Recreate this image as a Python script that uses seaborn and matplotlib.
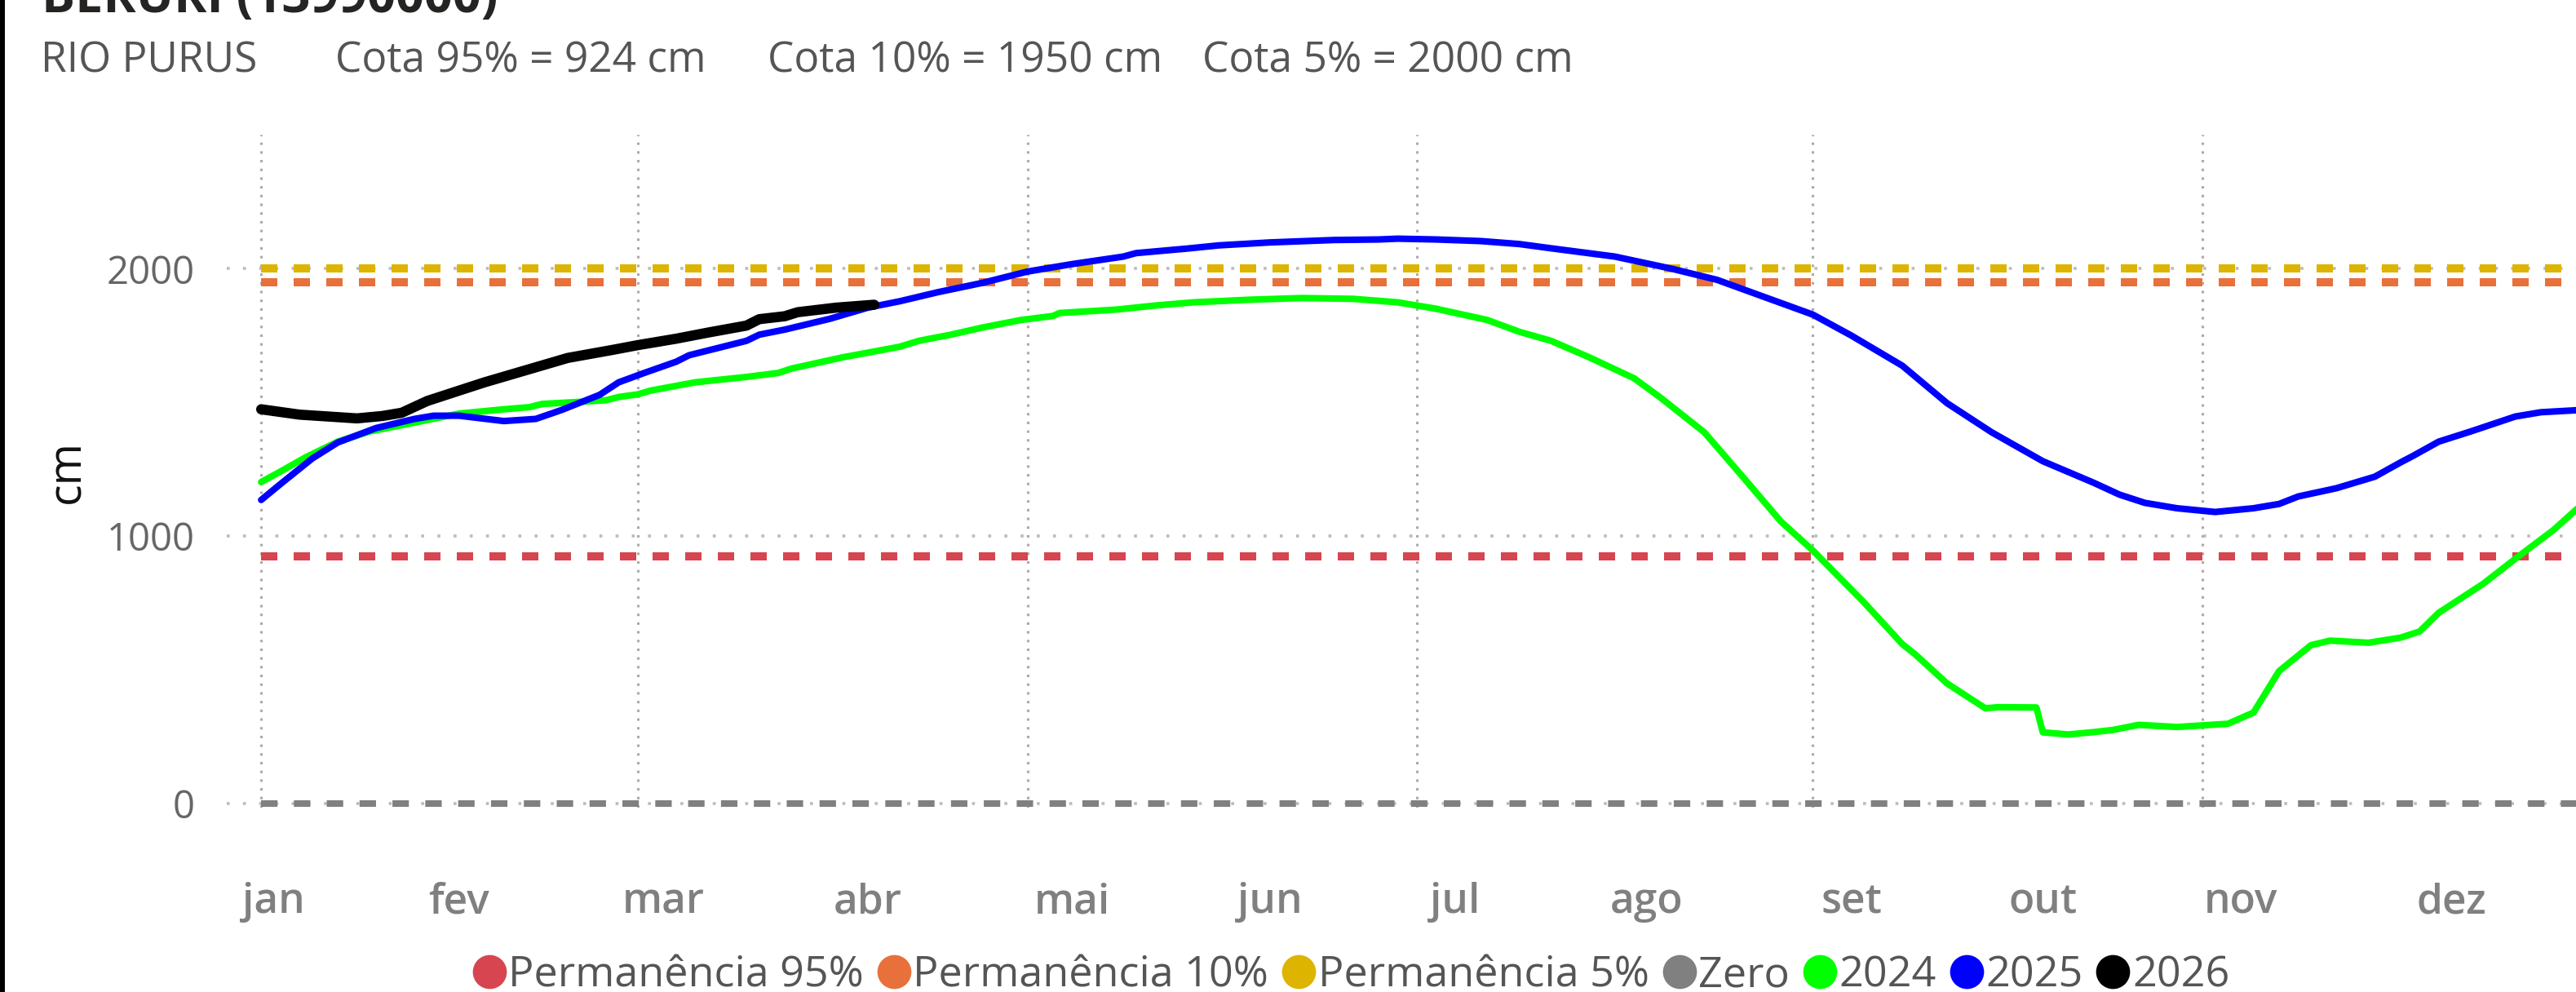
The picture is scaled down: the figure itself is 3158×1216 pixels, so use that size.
import pandas as pd
import matplotlib
matplotlib.use("Agg")
import matplotlib.pyplot as plt
from matplotlib.lines import Line2D
import seaborn as sns

# day of year (0 = 1 jan) and stage in cm
dias_2024 = [0, 3, 7, 12, 17, 24, 31, 38, 42, 44, 50, 54, 56, 59, 61, 68, 76, 81, 83, 91,
             100, 103, 108, 113, 119, 124, 125, 134, 140, 146, 155, 163, 171, 178, 184, 192, 197, 202, 208, 215,
             219, 226, 232, 238, 243, 251, 257, 259, 264, 270, 272, 278, 279, 283, 287, 290, 294, 300, 308, 312,
             316, 321, 324, 330, 335, 338, 341, 348, 353, 359, 363, 365]
cota_2024 = [1202, 1241, 1295, 1353, 1391, 1424, 1458, 1474, 1482, 1494, 1502, 1508, 1520, 1530, 1544, 1575, 1595, 1610, 1626, 1668,
             1708, 1730, 1753, 1780, 1808, 1823, 1834, 1847, 1862, 1874, 1884, 1890, 1887, 1874, 1850, 1808, 1764, 1730, 1668, 1590,
             1520, 1388, 1222, 1054, 946, 752, 596, 558, 449, 356, 360, 359, 266, 258, 267, 275, 294, 286, 298, 340,
             495, 592, 609, 601, 620, 643, 713, 822, 915, 1023, 1109, 1150]

dias_2025 = [0, 3, 8, 12, 18, 24, 27, 31, 38, 43, 47, 53, 56, 60, 65, 67, 76, 78, 82, 89,
             95, 100, 106, 113, 120, 127, 135, 137, 145, 150, 158, 168, 175, 178, 184, 191, 197, 202, 212, 221,
             228, 234, 243, 249, 257, 264, 271, 279, 287, 291, 295, 300, 306, 312, 316, 319, 325, 331, 335, 337,
             341, 346, 353, 357, 363, 365]
cota_2025 = [1135, 1194, 1290, 1350, 1404, 1438, 1450, 1450, 1430, 1438, 1471, 1528, 1575, 1610, 1652, 1676, 1730, 1753, 1772, 1812,
             1854, 1878, 1912, 1947, 1989, 2017, 2045, 2058, 2075, 2087, 2098, 2107, 2109, 2112, 2109, 2103, 2092, 2076, 2045, 1999,
             1958, 1906, 1828, 1750, 1637, 1497, 1388, 1280, 1199, 1155, 1124, 1104, 1090, 1104, 1120, 1148, 1179, 1222, 1275, 1300,
             1353, 1391, 1447, 1463, 1471, 1473]

dias_2026 = [0, 6, 15, 19, 22, 26, 31, 35, 42, 48, 55, 59, 65, 70, 76, 78, 82, 84, 90, 96]
cota_2026 = [1474, 1454, 1440, 1449, 1461, 1505, 1544, 1575, 1624, 1666, 1696, 1714, 1738, 1761, 1787, 1811, 1822, 1837, 1854, 1865]

# reference levels
ref_nomes = ["Permanência 95%", "Permanência 10%", "Permanência 5%", "Zero"]
ref_cotas = [924, 1950, 2000, 0]
ref_cores = ["#D64550", "#E8703A", "#DDB400", "#808080"]

anos = ["2024", "2025", "2026"]
ano_cores = ["#00FF00", "#0000FF", "#000000"]

meses = ["jan", "fev", "mar", "abr", "mai", "jun", "jul", "ago", "set", "out", "nov", "dez"]
inicio_mes = [0, 31, 59, 90, 120, 151, 181, 212, 243, 273, 304, 334]
pos_rotulo = [2, 31, 63, 95, 127, 158, 187, 217, 249, 279, 310, 343]

series = pd.concat([
    pd.DataFrame({"dia": dias_2024, "cota": cota_2024, "ano": "2024"}),
    pd.DataFrame({"dia": dias_2025, "cota": cota_2025, "ano": "2025"}),
    pd.DataFrame({"dia": dias_2026, "cota": cota_2026, "ano": "2026"}),
])

sns.set_theme(style="white")
plt.rcParams["font.family"] = ["Open Sans", "DejaVu Sans"]

fig = plt.figure(figsize=(31.58, 12.16), dpi=100)
ax = fig.add_axes([0.088, 0.186, 0.912, 0.678])

# reference lines
for nome, cota, cor in zip(ref_nomes, ref_cotas, ref_cores):
    dash = (0, (2, 2)) if nome != "Zero" else (0, (2.5, 2.5))
    lw = 7.2 if nome != "Zero" else 5.8
    sns.lineplot(x=[0, 366], y=[cota, cota], ax=ax, color=cor, linewidth=lw,
                 linestyle=dash, zorder=3, legend=False)

# yearly series
for ano, cor in zip(anos, ano_cores):
    d = series[series["ano"] == ano]
    lw = 9.0 if ano == "2026" else 5.8
    sns.lineplot(data=d, x="dia", y="cota", ax=ax, color=cor, linewidth=lw,
                 estimator=None, sort=True, legend=False, zorder=4,
                 solid_capstyle="round", solid_joinstyle="round")

ax.set_xlim(-5.4, 362.5)
ax.set_ylim(-15, 2500)

ax.set_yticks([0, 1000, 2000])
ax.set_yticklabels(["0", "1000", "2000"])
ax.set_xticks(pos_rotulo)
ax.set_xticklabels(meses)
ax.set_xticks(inicio_mes[::2], minor=True)

ax.tick_params(axis="y", length=0, pad=28, labelsize=34, labelcolor="#666666")
ax.tick_params(axis="x", which="major", length=0, pad=66, labelsize=37, labelcolor="#808080")
ax.tick_params(axis="x", which="minor", length=0)
for t in ax.get_xticklabels():
    t.set_fontweight("semibold")

ax.grid(False)
ax.grid(True, axis="y", which="major", color="#BBBBBB", linewidth=2.6, linestyle=(0, (1, 4.5)))
ax.grid(True, axis="x", which="minor", color="#AAAAAA", linewidth=2.2, linestyle=(0, (1, 2.5)))
for s in ax.spines.values():
    s.set_visible(False)

ax.set_xlabel("")
ax.set_ylabel("cm", fontsize=40, color="#111111", labelpad=14)

# title (cut at the top edge) and subtitle
fig.text(0.016, 1 - 15 / 1216, "BERURI (13990000)", fontsize=44, fontweight="bold",
         color="#252423", va="baseline", ha="left")
sub_x = [50, 411, 941, 1474]
sub_txt = ["RIO PURUS", "Cota 95% = 924 cm", "Cota 10% = 1950 cm", "Cota 5% = 2000 cm"]
for x, t in zip(sub_x, sub_txt):
    fig.text(x / 3158, 1 - 75 / 1216, t, fontsize=37, color="#555555", va="center", ha="left")

# legend
handles = [Line2D([], [], marker="o", linestyle="none", markersize=29, color=c)
           for c in ref_cores + ano_cores]
labels = ref_nomes + anos
fig.legend(handles, labels, loc="center", bbox_to_anchor=(0.524, 1 - 1196 / 1216), ncol=7,
           frameon=False, fontsize=37.5, handletextpad=0.0, columnspacing=0.26,
           handlelength=0.9, labelcolor="#555555", borderaxespad=0)

# left border of the panel
fig.add_artist(Line2D([0.001, 0.001], [0, 1], transform=fig.transFigure, color="black", linewidth=4.3))

fig.savefig("out.png", dpi=100, facecolor="white")
